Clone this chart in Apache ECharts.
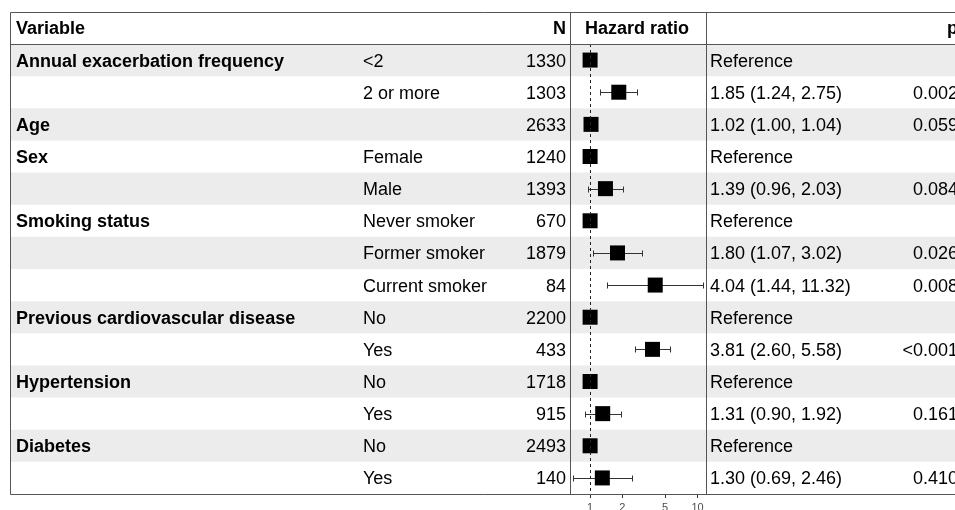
<!DOCTYPE html>
<html>
<head>
<meta charset="utf-8">
<script src="https://cdn.jsdelivr.net/npm/echarts@6/dist/echarts.min.js"></script>
<style>
html, body { margin: 0; padding: 0; background: #fff; }
#chart { width: 955px; height: 510px; }
</style>
</head>
<body>
<div id="chart"></div>
<script>
// table rows
const variables = ['Annual exacerbation frequency', '', 'Age', 'Sex', '', 'Smoking status', '', '',
  'Previous cardiovascular disease', '', 'Hypertension', '', 'Diabetes', '']
const levels = ['<2', '2 or more', '', 'Female', 'Male', 'Never smoker', 'Former smoker', 'Current smoker',
  'No', 'Yes', 'No', 'Yes', 'No', 'Yes']
const counts = [1330, 1303, 2633, 1240, 1393, 670, 1879, 84, 2200, 433, 1718, 915, 2493, 140]
const hr = [1, 1.85, 1.02, 1, 1.39, 1, 1.80, 4.04, 1, 3.81, 1, 1.31, 1, 1.30]
const lower = [null, 1.24, 1.00, null, 0.96, null, 1.07, 1.44, null, 2.60, null, 0.90, null, 0.69]
const upper = [null, 2.75, 1.04, null, 2.03, null, 3.02, 11.32, null, 5.58, null, 1.92, null, 2.46]
const pValues = ['', '0.002', '0.059', '', '0.084', '', '0.026', '0.008', '', '<0.001', '', '0.161', '', '0.410']
const tickValues = [1, 2, 5, 10]
const tickLabels = ['1', '2', '5', '10']

const FONT = '"Liberation Sans", Arial, sans-serif'
const TOP = 44, BOTTOM = 494, LEFT = 10
const PANEL_L = 570, PANEL_R = 706
const TEXT_DY = 1.5 // small nudge so text sits like the reference
const log = v => Math.log10(v)

// text shown in the estimate column
const estText = hr.map((v, i) => lower[i] == null ? 'Reference'
  : v.toFixed(2) + ' (' + lower[i].toFixed(2) + ', ' + upper[i].toFixed(2) + ')')

const chart = echarts.init(document.getElementById('chart'))

const txt = (x, y, text, align, bold) => ({
  type: 'text',
  z: 100,
  style: {
    x: x, y: y, text: text, align: align, verticalAlign: 'middle',
    font: (bold ? 'bold ' : '') + '18px ' + FONT, fill: '#000'
  }
})
const frameLine = (x1, y1, x2, y2) => ({
  type: 'line', z: 100,
  shape: { x1: x1, y1: y1, x2: x2, y2: y2 },
  style: { stroke: '#555', lineWidth: 1 }
})

const option = {
  animation: false,
  grid: {
    left: PANEL_L, top: TOP, width: PANEL_R - PANEL_L, height: BOTTOM - TOP,
    containLabel: false, outerBoundsMode: 'none'
  },
  xAxis: {
    type: 'value',
    position: 'bottom',
    min: log(0.65),
    max: log(12),
    splitLine: { show: false },
    axisLine: { show: false, onZero: false },
    axisTick: { show: true, inside: false, length: 4, customValues: tickValues.map(log), lineStyle: { color: '#333' } },
    axisLabel: {
      customValues: tickValues.map(log),
      formatter: v => tickLabels[tickValues.findIndex(t => Math.abs(log(t) - v) < 1e-6)],
      fontSize: 11, color: '#4d4d4d', fontFamily: FONT, margin: 8
    }
  },
  yAxis: { type: 'value', min: -0.5, max: levels.length - 0.5, inverse: true, show: false },
  series: [
    {
      // row bands + table text
      type: 'custom',
      z: 0,
      clip: false,
      silent: true,
      data: levels.map((_, i) => [0, i]),
      encode: { x: 0, y: 1 },
      renderItem: (params, api) => {
        const i = api.value(1)
        const y = api.coord([0, i])[1]
        const h = api.size([0, 1])[1]
        const ty = y + TEXT_DY
        const kids = []
        if (i % 2 === 0) {
          kids.push({ type: 'rect', shape: { x: LEFT, y: y - h / 2, width: 1000, height: h }, style: { fill: '#ececec' } })
        }
        kids.push(txt(16, ty, variables[i], 'left', true))
        kids.push(txt(363, ty, levels[i], 'left', false))
        kids.push(txt(566, ty, String(counts[i]), 'right', false))
        kids.push(txt(710, ty, estText[i], 'left', false))
        kids.push(txt(958, ty, pValues[i], 'right', false))
        return { type: 'group', children: kids }
      }
    },
    {
      // confidence intervals
      type: 'custom',
      z: 2,
      silent: true,
      data: hr.map((v, i) => [lower[i] == null ? null : log(lower[i]), lower[i] == null ? null : log(upper[i]), i])
        .filter(d => d[0] != null),
      encode: { x: [0, 1], y: 2 },
      renderItem: (params, api) => {
        const a = api.coord([api.value(0), api.value(2)])
        const b = api.coord([api.value(1), api.value(2)])
        const y = Math.round(a[1]) + 0.5
        const x1 = Math.round(a[0]) + 0.5, x2 = Math.round(b[0]) + 0.5
        const st = { stroke: '#333', lineWidth: 1 }
        const cap = 3
        return {
          type: 'group',
          children: [
            { type: 'line', shape: { x1: x1, y1: y, x2: x2, y2: y }, style: st },
            { type: 'line', shape: { x1: x1, y1: y - cap, x2: x1, y2: y + cap }, style: st },
            { type: 'line', shape: { x1: x2, y1: y - cap, x2: x2, y2: y + cap }, style: st }
          ]
        }
      },
      markLine: {
        silent: true,
        symbol: 'none',
        label: { show: false },
        lineStyle: { color: '#222', type: [3, 3], width: 1 },
        data: [{ xAxis: 0 }]
      }
    },
    {
      type: 'scatter',
      z: 3,
      symbol: 'rect',
      symbolSize: 15,
      itemStyle: { color: '#000', opacity: 1 },
      data: hr.map((v, i) => [log(v), i])
    }
  ],
  graphic: [
    { type: 'rect', z: 100, shape: { x: LEFT + 0.5, y: 12.5, width: 1000, height: BOTTOM - 12 }, style: { fill: null, stroke: '#555', lineWidth: 1 } },
    frameLine(LEFT, TOP + 0.5, 1000, TOP + 0.5),
    frameLine(PANEL_L + 0.5, 12, PANEL_L + 0.5, BOTTOM),
    frameLine(PANEL_R + 0.5, 12, PANEL_R + 0.5, BOTTOM),
    txt(16, 28 + TEXT_DY, 'Variable', 'left', true),
    txt(566, 28 + TEXT_DY, 'N', 'right', true),
    txt(585, 28 + TEXT_DY, 'Hazard ratio', 'left', true),
    txt(958, 28 + TEXT_DY, 'p', 'right', true)
  ]
}

chart.setOption(option)
</script>
</body>
</html>
